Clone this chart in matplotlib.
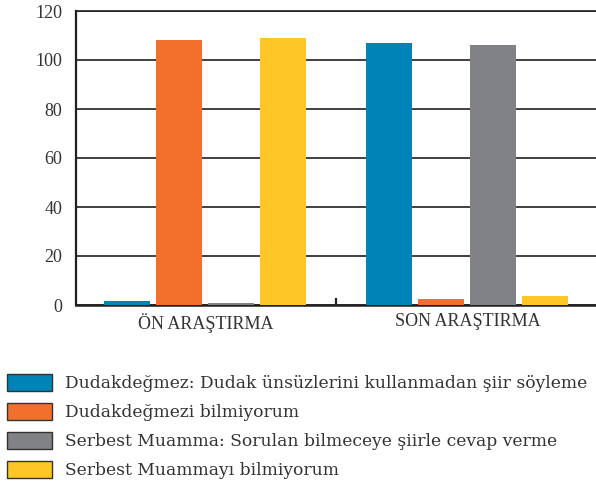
import matplotlib
matplotlib.use("Agg")
import matplotlib.pyplot as plt
from matplotlib.patches import Patch
import numpy as np

categories = ["ÖN ARAŞTIRMA", "SON ARAŞTIRMA"]
series_names = [
    "Dudakdeğmez: Dudak ünsüzlerini kullanmadan şiir söyleme",
    "Dudakdeğmezi bilmiyorum",
    "Serbest Muamma: Sorulan bilmeceye şiirle cevap verme",
    "Serbest Muammayı bilmiyorum",
]
dudakdegmez = [1.6, 107]
dudakdegmezi_bilmiyorum = [108, 2.4]
serbest_muamma = [0.7, 106]
serbest_muamma_bilmiyorum = [109, 3.8]
series_values = [dudakdegmez, dudakdegmezi_bilmiyorum, serbest_muamma, serbest_muamma_bilmiyorum]
colors = ["#0083b7", "#f26f2c", "#818286", "#ffc627"]
y_ticks = [0, 20, 40, 60, 80, 100, 120]

W, H = 596, 488
fig = plt.figure(figsize=(W / 100, H / 100), dpi=100)
ax = fig.add_axes([76 / W, (H - 305) / H, 522.4 / W, 294 / H])

x = np.arange(len(categories))
pitch = 0.1985
width = 0.1756
for i, (vals, col) in enumerate(zip(series_values, colors)):
    ax.bar(x + (i - 1.5) * pitch, vals, width=width, color=col, zorder=3, linewidth=0)

ax.set_xlim(-0.494, 1.5)
ax.set_ylim(0, 120)
ax.set_yticks(y_ticks)
ax.set_yticklabels([str(t) for t in y_ticks], fontfamily="Liberation Serif", fontsize=13, color="#333333")
ax.tick_params(axis="y", length=0, pad=10)
ax.set_xticks(x)
ax.set_xticklabels(categories, fontfamily="Liberation Serif", fontsize=13, color="#333333")
ax.tick_params(axis="x", which="major", length=0, pad=6)
ax.set_xticks([0.5, 1.5], minor=True)
ax.tick_params(axis="x", which="minor", direction="in", length=5, width=1.6, color="#231f20")

ax.yaxis.grid(True, color="#231f20", linewidth=1.2, zorder=1)
ax.set_axisbelow(True)
for s in ["top", "right"]:
    ax.spines[s].set_visible(False)
ax.spines["left"].set_linewidth(1.6)
ax.spines["left"].set_color("#231f20")
ax.spines["bottom"].set_linewidth(1.8)
ax.spines["bottom"].set_color("#231f20")
ax.axhline(120, color="#231f20", linewidth=1.2, clip_on=False, zorder=2)

handles = [Patch(facecolor=c, edgecolor="#333333", linewidth=1.0) for c in colors]
fs = 12.3
fpx = fs * 100 / 72
fig.legend(handles, series_names, loc="upper left",
           bbox_to_anchor=(7 / W, (H - 374) / H), frameon=False,
           prop={"family": "DejaVu Serif", "size": fs},
           handlelength=45 / fpx, handleheight=19 / fpx, handletextpad=13 / fpx,
           labelspacing=0.64, borderpad=0, borderaxespad=0, labelcolor="#333333")

fig.savefig("out.png", dpi=100)
